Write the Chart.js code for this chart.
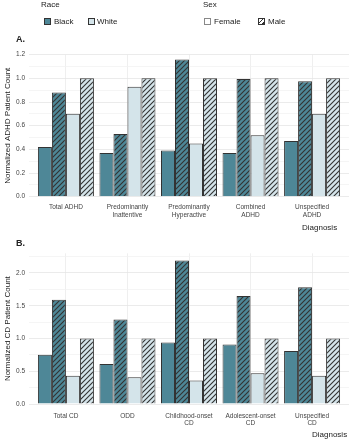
<!DOCTYPE html>
<html>
<head>
<meta charset="utf-8">
<script src="https://cdn.jsdelivr.net/npm/chart.js@4.4.1/dist/chart.umd.min.js"></script>
<style>
  body { margin: 0; background: #fff; font-family: "Liberation Sans", Arial, sans-serif; color: #222; }
  #wrap { position: relative; width: 350px; height: 440px; overflow: hidden; }
  canvas { position: absolute; left: 0; }
  .lbl { position: absolute; font-size: 8px; white-space: nowrap; line-height: 1; }
  .sw { position: absolute; width: 7px; height: 7px; border: 0.8px solid #333; box-sizing: border-box; }
  .panel { position: absolute; font-size: 9px; font-weight: bold; left: 16px; }
</style>
</head>
<body>
<div id="wrap">
  <canvas id="chartA" width="350" height="225" style="top:0"></canvas>
  <canvas id="chartB" width="350" height="215" style="top:225px"></canvas>

  <div class="lbl" style="left:41px;top:1px">Race</div>
  <div class="sw" style="left:44px;top:18px;background:#4e8797"></div>
  <div class="lbl" style="left:54px;top:18px">Black</div>
  <div class="sw" style="left:88px;top:18px;background:#d4e4ea"></div>
  <div class="lbl" style="left:97px;top:18px">White</div>

  <div class="lbl" style="left:203px;top:1px">Sex</div>
  <div class="sw" style="left:204px;top:18px;background:#fff;border-color:#888"></div>
  <div class="lbl" style="left:214px;top:18px">Female</div>
  <div class="sw" style="left:258px;top:18px;background:repeating-linear-gradient(135deg,#fff 0 2.2px,#333 2.2px 3.2px)"></div>
  <div class="lbl" style="left:268px;top:18px">Male</div>

  <div class="panel" style="top:34px">A.</div>
  <div class="panel" style="top:238px">B.</div>
  <div class="lbl" style="left:302px;top:224px">Diagnosis</div>
  <div class="lbl" style="left:312px;top:431px">Diagnosis</div>
</div>

<script>
// Panel A: ADHD
const adhdLabels = ["Total ADHD", ["Predominantly", "Inattentive"], ["Predominantly", "Hyperactive"], ["Combined", "ADHD"], ["Unspecified", "ADHD"]];
const adhdBlackFemale = [0.42, 0.37, 0.39, 0.37, 0.47];
const adhdBlackMale = [0.88, 0.53, 1.16, 0.995, 0.975];
const adhdWhiteFemale = [0.70, 0.93, 0.45, 0.52, 0.70];
const adhdWhiteMale = [1.0, 1.0, 1.0, 1.0, 1.0];
const adhdTicks = [0, 0.2, 0.4, 0.6, 0.8, 1.0, 1.2];

// Panel B: CD
const cdLabels = ["Total CD", "ODD", ["Childhood-onset", "CD"], ["Adolescent-onset", "CD"], ["Unspecified", "CD"]];
const cdBlackFemale = [0.75, 0.61, 0.94, 0.91, 0.81];
const cdBlackMale = [1.59, 1.29, 2.19, 1.65, 1.78];
const cdWhiteFemale = [0.43, 0.41, 0.36, 0.47, 0.43];
const cdWhiteMale = [1.0, 1.0, 1.0, 1.0, 1.0];
const cdTicks = [0, 0.5, 1.0, 1.5, 2.0];

const TEAL = "#4e8797";
const LIGHT = "#d4e4ea";
const FONT = "'Liberation Sans', Arial, sans-serif";

function makeHatch(bg) {
  const c = document.createElement("canvas");
  c.width = 5; c.height = 5;
  const g = c.getContext("2d");
  g.fillStyle = bg;
  g.fillRect(0, 0, 5, 5);
  g.strokeStyle = "#333";
  g.lineWidth = 1.1;
  g.beginPath();
  g.moveTo(-1, 6); g.lineTo(6, -1);
  g.moveTo(-1, 1); g.lineTo(1, -1);
  g.moveTo(4, 6); g.lineTo(6, 4);
  g.stroke();
  return g.createPattern(c, "repeat");
}

function toPoints(arr) {
  return arr.map((v, i) => ({ x: i + 1, y: v }));
}

function buildChart(id, labels, series, majorTicks, yMax, yTitle, padTop, axisH, tickPad) {
  const minor = [];
  for (let i = 0; i < majorTicks.length; i++) {
    minor.push(majorTicks[i]);
    const next = i + 1 < majorTicks.length ? majorTicks[i + 1] : majorTicks[i] * 2 - majorTicks[i - 1];
    const mid = (majorTicks[i] + next) / 2;
    if (mid < yMax) minor.push(mid);
  }
  const isMajor = v => majorTicks.some(t => Math.abs(t - v) < 1e-6);
  const styles = [
    { backgroundColor: TEAL },
    { backgroundColor: makeHatch(TEAL) },
    { backgroundColor: LIGHT },
    { backgroundColor: makeHatch(LIGHT) }
  ];

  return new Chart(document.getElementById(id), {
    type: "bar",
    data: {
      datasets: series.map((s, i) => ({
        data: toPoints(s),
        backgroundColor: styles[i].backgroundColor,
        borderColor: "#333",
        borderWidth: 1,
        barPercentage: 1.0,
        categoryPercentage: 0.91
      }))
    },
    options: {
      responsive: false,
      animation: false,
      layout: { padding: { top: padTop, left: 3, right: 1, bottom: 0 } },
      plugins: { legend: { display: false }, tooltip: { enabled: false } },
      scales: {
        x: {
          type: "linear",
          offset: false,
          min: 0.4,
          max: labels.length + 0.6,
          afterBuildTicks: s => { s.ticks = labels.map((l, i) => ({ value: i + 1 })); },
          afterFit: s => { s.height = axisH; },
          grid: { color: "#ebebeb", lineWidth: 0.8, drawTicks: false, offset: false },
          border: { display: false },
          ticks: {
            autoSkip: false, maxRotation: 0, padding: tickPad, color: "#444",
            font: { family: FONT, size: 6.5 },
            callback: v => labels[Math.round(v) - 1]
          }
        },
        y: {
          min: 0,
          max: yMax,
          afterBuildTicks: s => { s.ticks = minor.map(v => ({ value: v })); },
          afterFit: s => { s.width = 26; },
          grid: {
            drawTicks: false,
            lineWidth: 0.8,
            color: c => isMajor(c.tick.value) ? "#e6e6e6" : "#f3f3f3"
          },
          border: { display: false },
          title: { display: true, text: yTitle, color: "#222", padding: 0, font: { family: FONT, size: 8 } },
          ticks: {
            padding: 4, color: "#444",
            font: { family: FONT, size: 6.5 },
            callback: v => isMajor(v) ? v.toFixed(1) : ""
          }
        }
      }
    }
  });
}

buildChart("chartA", adhdLabels, [adhdBlackFemale, adhdBlackMale, adhdWhiteFemale, adhdWhiteMale],
  adhdTicks, 1.2, "Normalized ADHD Patient Count", 54.7, 28.3, 7);
buildChart("chartB", cdLabels, [cdBlackFemale, cdBlackMale, cdWhiteFemale, cdWhiteMale],
  cdTicks, 2.3, "Normalized CD Patient Count", 28.3, 36, 8);
</script>
</body>
</html>
